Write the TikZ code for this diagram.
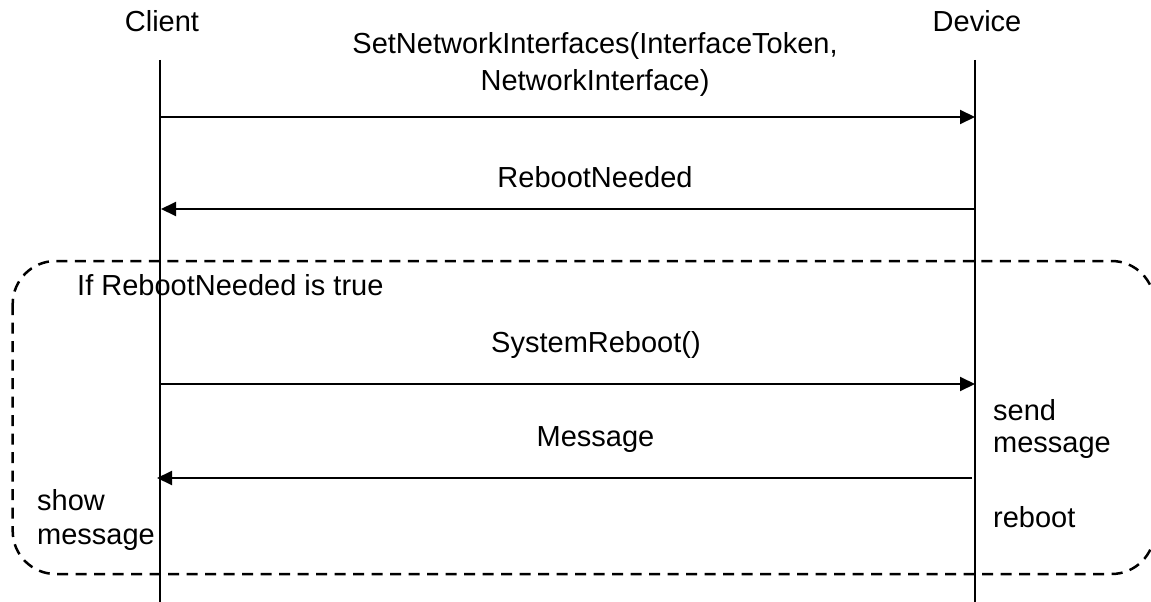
\documentclass[tikz,border=0pt]{standalone}
\usepackage{fontspec}
\setmainfont{Liberation Sans}
\usetikzlibrary{arrows.meta}
\begin{document}
\begin{tikzpicture}[x=1pt,y=-1pt,
  lbl/.style={font=\fontsize{29}{37}\selectfont, inner sep=0pt, anchor=base},
  lblw/.style={lbl, anchor=base west, align=left},
  msg/.style={line width=2pt, -{Triangle[length=15pt,width=14pt]}},
  life/.style={line width=2pt},
  frame/.style={line width=2.5pt, dash pattern=on 11pt off 7.5pt, rounded corners=43pt}]
\useasboundingbox (0,0) rectangle (1151,602);

% lifelines
\coordinate (ctop) at (160,60);
\coordinate (cbot) at (160,602);
\coordinate (dtop) at (975,60);
\coordinate (dbot) at (975,602);
\draw[life] (ctop) -- (cbot);
\draw[life] (dtop) -- (dbot);

\node[lbl] (client) at (162,32) {Client};
\node[lbl] (device) at (977,32) {Device};

% frame
\draw[frame] (12.7,261) rectangle (1154.5,574);
\node[lblw] (cond) at (77,295) {If RebootNeeded is true};

% messages
\coordinate (m1s) at (160,117);
\coordinate (m1e) at (975,117);
\draw[msg] (m1s) -- (m1e);
\node[lbl, align=center] (l1) at (595,90) {SetNetworkInterfaces(InterfaceToken,\\NetworkInterface)};

\coordinate (m2s) at (975,209);
\coordinate (m2e) at (161,209);
\draw[msg] (m2s) -- (m2e);
\node[lbl] (l2) at (595,187) {RebootNeeded};

\coordinate (m3s) at (160,384);
\coordinate (m3e) at (975,384);
\draw[msg] (m3s) -- (m3e);
\node[lbl] (l3) at (596,352) {SystemReboot()};

\coordinate (m4s) at (972,478);
\coordinate (m4e) at (157,478);
\draw[msg] (m4s) -- (m4e);
\node[lbl] (l4) at (595.5,446) {Message};

% activity notes
\node[lblw, font=\fontsize{29}{32}\selectfont] (send) at (993,452) {send\\message};
\node[lblw] (reboot) at (993,527) {reboot};
\node[lblw, font=\fontsize{29}{34}\selectfont] (show) at (37,544) {show\\message};
\end{tikzpicture}
\end{document}
